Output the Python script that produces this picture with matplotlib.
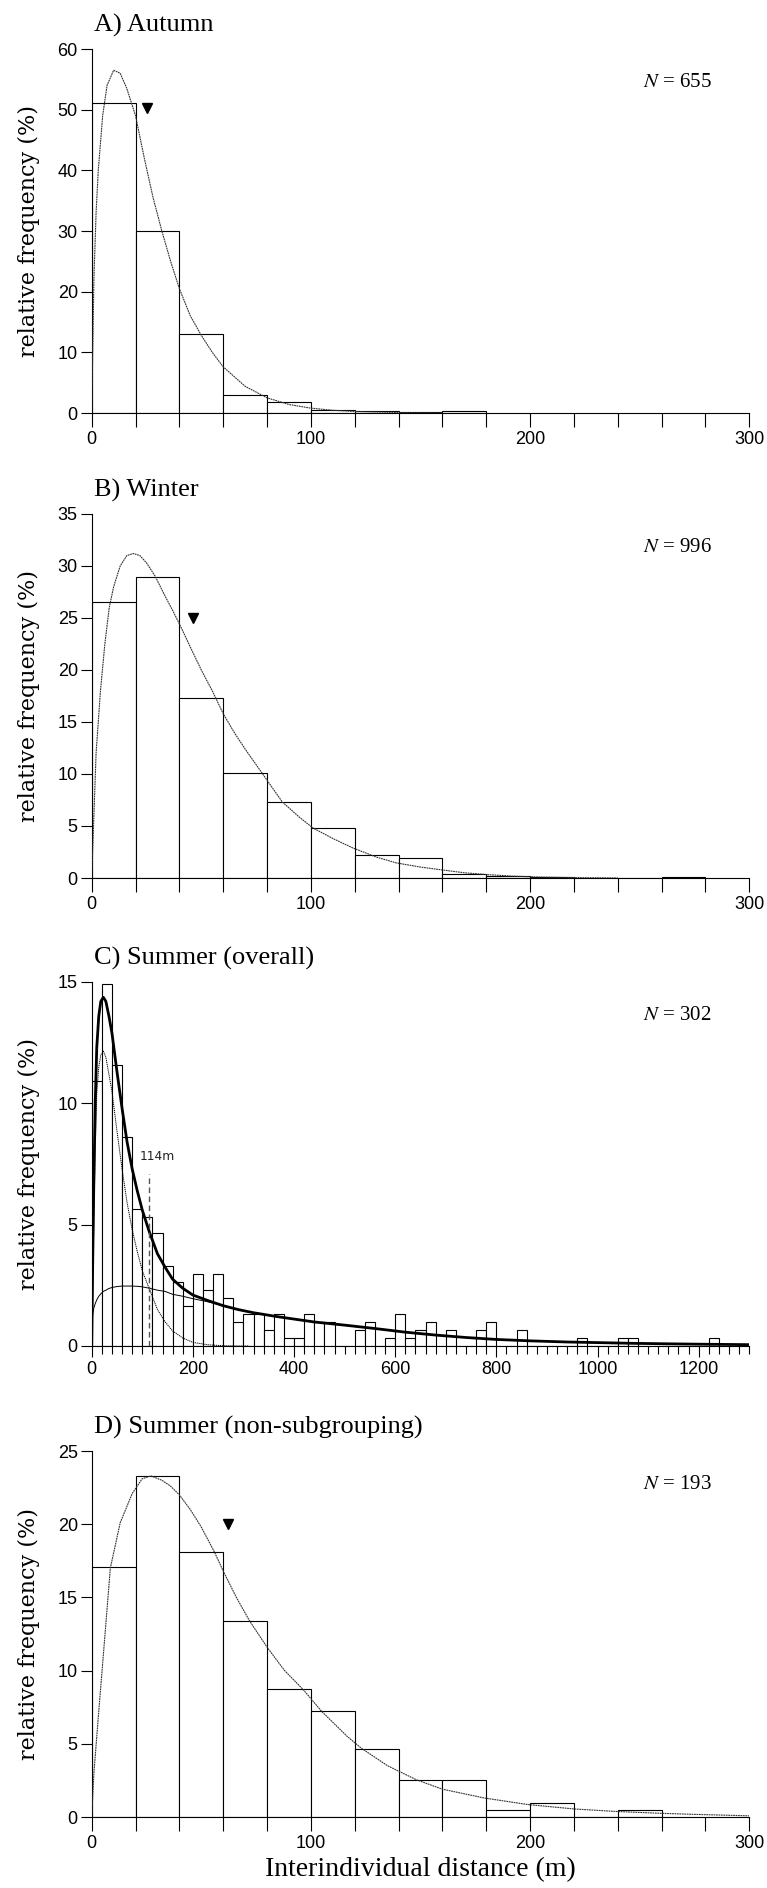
import matplotlib
matplotlib.use("Agg")
import matplotlib.pyplot as plt
from matplotlib.ticker import MultipleLocator
from matplotlib import font_manager

plt.rcParams['mathtext.fontset'] = 'stix'
_names = {f.name for f in font_manager.fontManager.ttflist}
TICK_FONT = 'Liberation Sans Narrow' if 'Liberation Sans Narrow' in _names else 'Liberation Sans'
plt.rcParams['font.family'] = [TICK_FONT, 'DejaVu Sans']

# ---------------- data ----------------
BIN = 20

# A) Autumn
autumn_freq = [51.1, 30.0, 13.0, 3.0, 1.8, 0.5, 0.3, 0.15, 0.3]
autumn_curve_x = [0, 1, 2, 3, 5, 7, 10, 13, 16, 20, 24, 28, 32, 36, 40, 45, 50, 55, 60,
                  70, 80, 90, 100, 110, 120, 140, 160]
autumn_curve_y = [0, 22, 33, 40, 49, 54, 56.5, 56, 53.5, 49, 42, 35.5, 30, 25, 20.5, 16,
                  12.8, 10, 7.6, 4.4, 2.5, 1.4, 0.8, 0.45, 0.25, 0.08, 0.02]
autumn_mark = (25, 50.2)
autumn_n = "655"

# B) Winter
winter_freq = [26.5, 28.9, 17.3, 10.1, 7.3, 4.8, 2.2, 1.95, 0.38, 0.19, 0.1, 0, 0, 0.1]
winter_curve_x = [0, 2, 4, 6, 8, 10, 13, 16, 19, 22, 25, 29, 33, 37, 41, 45, 50, 55, 60,
                  65, 70, 78, 87, 95, 101, 110, 119, 130, 139, 150, 159, 170, 181, 192,
                  203, 220, 240]
winter_curve_y = [0, 12, 18, 22.5, 26, 28, 30, 31, 31.2, 31, 30.3, 29, 27.3, 25.7, 24,
                  22.2, 20, 18, 15.8, 14, 12.4, 10, 7.3, 5.8, 4.8, 3.8, 2.9, 2.0, 1.45,
                  1.05, 0.8, 0.5, 0.32, 0.18, 0.1, 0.04, 0]
winter_mark = (46, 25.0)
winter_n = "996"

# C) Summer (overall), percent per 20 m bin, 0-1300 m
summer_freq = [10.93, 14.90, 11.59, 8.61, 5.63, 5.30, 4.64, 3.31, 2.65, 1.66,
               2.98, 2.32, 2.98, 1.99, 0.99, 1.32, 1.32, 0.66, 1.32, 0.33,
               0.33, 1.32, 0.99, 0.99, 0, 0, 0.66, 0.99, 0, 0.33,
               1.32, 0.33, 0.66, 0.99, 0, 0.66, 0, 0, 0.66, 0.99,
               0, 0, 0.66, 0, 0, 0, 0, 0, 0.33, 0,
               0, 0, 0.33, 0.33, 0, 0, 0, 0, 0, 0,
               0, 0.33, 0, 0, 0]
summer_total_x = [0, 2, 4, 7, 10, 14, 18, 23, 28, 34, 40, 50, 60, 70, 80, 90, 100, 114,
                  130, 145, 160, 180, 200, 230, 260, 290, 320, 370, 440, 500, 560, 620,
                  680, 740, 800, 870, 940, 1000, 1070, 1140, 1200, 1300]
summer_total_y = [0, 3.5, 6.5, 10.0, 12.3, 13.6, 14.2, 14.37, 14.2, 13.6, 12.9, 11.3,
                  9.8, 8.4, 7.3, 6.4, 5.6, 4.7, 3.8, 3.25, 2.75, 2.38, 2.1, 1.87, 1.66,
                  1.5, 1.37, 1.2, 0.99, 0.86, 0.72, 0.57, 0.45, 0.35, 0.27, 0.21, 0.165,
                  0.14, 0.11, 0.09, 0.075, 0.055]
summer_comp1_x = [0, 2, 4, 7, 10, 14, 18, 23, 28, 34, 40, 50, 60, 70, 80, 90, 100, 114,
                  130, 145, 160, 180, 200, 230, 260, 290, 310]
summer_comp1_y = [0, 2.2, 5.0, 8.2, 10.4, 11.5, 12.0, 12.15, 11.9, 11.2, 10.5, 8.85,
                  7.3, 5.9, 4.8, 3.9, 3.1, 2.35, 1.5, 1.0, 0.62, 0.33, 0.15, 0.05, 0.01,
                  0, 0]
summer_comp2_x = [0, 2, 4, 7, 10, 14, 18, 23, 28, 34, 40, 50, 60, 70, 80, 90, 100, 114,
                  130, 145, 160, 180, 200, 230, 260, 290, 320, 370]
summer_comp2_y = [0.6, 1.3, 1.55, 1.75, 1.9, 2.05, 2.15, 2.25, 2.3, 2.37, 2.41, 2.45,
                  2.47, 2.47, 2.47, 2.46, 2.44, 2.38, 2.3, 2.25, 2.13, 2.05, 1.95, 1.82,
                  1.66, 1.5, 1.37, 1.2]
summer_threshold = 114
summer_threshold_top = 7.1
summer_n = "302"

# D) Summer (non-subgrouping)
nonsub_freq = [17.05, 23.26, 18.08, 13.41, 8.73, 7.22, 4.64, 2.54, 2.54, 0.46, 0.98, 0,
               0.46]
nonsub_curve_x = [0, 1, 3, 5.6, 8.5, 13, 18.5, 23, 27, 32, 36, 40, 45, 50, 56, 60, 66,
                  72, 80, 88, 96.5, 105, 116.6, 123, 135, 148, 160, 179, 199, 220, 239,
                  260, 275, 300]
nonsub_curve_y = [0, 3, 6.8, 11.6, 17, 20.1, 22.1, 23.1, 23.3, 23.0, 22.6, 22.0, 21.0,
                  19.8, 18.1, 16.8, 15.0, 13.4, 11.6, 10.0, 8.7, 7.2, 5.5, 4.7, 3.5,
                  2.55, 1.9, 1.3, 0.85, 0.55, 0.38, 0.25, 0.18, 0.08]
nonsub_mark = (62, 20.0)
nonsub_n = "193"

titles = ["A) Autumn", "B) Winter", "C) Summer (overall)", "D) Summer (non-subgrouping)"]
ylims = [60, 35, 15, 25]
ysteps = [10, 5, 5, 5]

# ---------------- figure ----------------
W, H = 767, 1888
fig = plt.figure(figsize=(W / 100, H / 100), dpi=100)

left_px, right_px = 91.7, 749.3
tops = [49, 514, 982, 1451]
bottoms = [413, 878, 1346, 1817]

axes = []
for t, b in zip(tops, bottoms):
    ax = fig.add_axes([left_px / W, 1 - b / H, (right_px - left_px) / W, (b - t) / H])
    axes.append(ax)

curve_style = dict(color='#333333', lw=0.8, ls=(0, (1.6, 0.6)), zorder=3)
bar_style = dict(facecolor='white', edgecolor='black', linewidth=0.8, align='edge', zorder=2)


def style_axis(ax, ymax, ystep, xmax, title, n_text):
    ax.set_xlim(0, xmax)
    ax.set_ylim(0, ymax)
    for s in ['top', 'right']:
        ax.spines[s].set_visible(False)
    for s in ['left', 'bottom']:
        ax.spines[s].set_linewidth(0.8)
    ax.yaxis.set_major_locator(MultipleLocator(ystep))
    ax.tick_params(axis='y', direction='out', length=8, width=0.8, labelsize=13, pad=2)
    ax.tick_params(axis='x', which='both', direction='out', width=0.8, labelsize=13, pad=3)
    ax.text(0.004, 1 + 17 / 364, title, transform=ax.transAxes, ha='left', va='baseline',
            fontsize=19, family='Liberation Serif')
    ax.text(0.943, 1 - 38 / 364, r"$N$ = " + n_text, transform=ax.transAxes, ha='right',
            va='baseline', fontsize=15, family='Liberation Serif')
    ax.text(-0.0953, 0.5, "relative frequency (%)", transform=ax.transAxes, rotation=90,
            ha='center', va='center', fontsize=16, family='DejaVu Serif')


def hist(ax, freq):
    lefts = [i * BIN for i in range(len(freq))]
    ax.bar(lefts, freq, width=BIN, **bar_style)


# A
ax = axes[0]
hist(ax, autumn_freq)
ax.plot(autumn_curve_x, autumn_curve_y, **curve_style)
ax.plot([autumn_mark[0]], [autumn_mark[1]], marker='v', color='black', ms=7, ls='none')
style_axis(ax, ylims[0], ysteps[0], 300, titles[0], autumn_n)

# B
ax = axes[1]
hist(ax, winter_freq)
ax.plot(winter_curve_x, winter_curve_y, **curve_style)
ax.plot([winter_mark[0]], [winter_mark[1]], marker='v', color='black', ms=7, ls='none')
style_axis(ax, ylims[1], ysteps[1], 300, titles[1], winter_n)

# C
ax = axes[2]
hist(ax, summer_freq)
ax.plot(summer_comp1_x, summer_comp1_y, color='black', lw=0.7, ls=(0, (1.2, 0.8)), zorder=3)
ax.plot(summer_comp2_x, summer_comp2_y, color='black', lw=0.7, zorder=3)
ax.plot(summer_total_x, summer_total_y, color='black', lw=2.0, zorder=4)
ax.plot([summer_threshold, summer_threshold], [0, summer_threshold_top], color='#555555',
        lw=1.0, ls=(0, (4, 2.5)), zorder=5)
ax.text(130, 7.8, f"{summer_threshold}m", ha='center', va='center', fontsize=8.8,
        family='DejaVu Sans', color='#222222')
style_axis(ax, ylims[2], ysteps[2], 1300, titles[2], summer_n)

# D
ax = axes[3]
hist(ax, nonsub_freq)
ax.plot(nonsub_curve_x, nonsub_curve_y, **curve_style)
ax.plot([nonsub_mark[0]], [nonsub_mark[1]], marker='v', color='black', ms=7, ls='none')
style_axis(ax, ylims[3], ysteps[3], 300, titles[3], nonsub_n)
ax.text(0.5, -59 / 364, "Interindividual distance (m)", transform=ax.transAxes,
        ha='center', va='baseline', fontsize=20, family='Liberation Serif')

# x ticks
for i in [0, 1, 3]:
    ax = axes[i]
    ax.xaxis.set_major_locator(MultipleLocator(100))
    ax.xaxis.set_minor_locator(MultipleLocator(20))
    ax.tick_params(axis='x', which='both', length=10)

ax = axes[2]
ax.xaxis.set_major_locator(MultipleLocator(200))
ax.xaxis.set_minor_locator(MultipleLocator(20))
ax.tick_params(axis='x', which='major', length=8)
ax.tick_params(axis='x', which='minor', length=6)

fig.savefig("out.png", dpi=100)
